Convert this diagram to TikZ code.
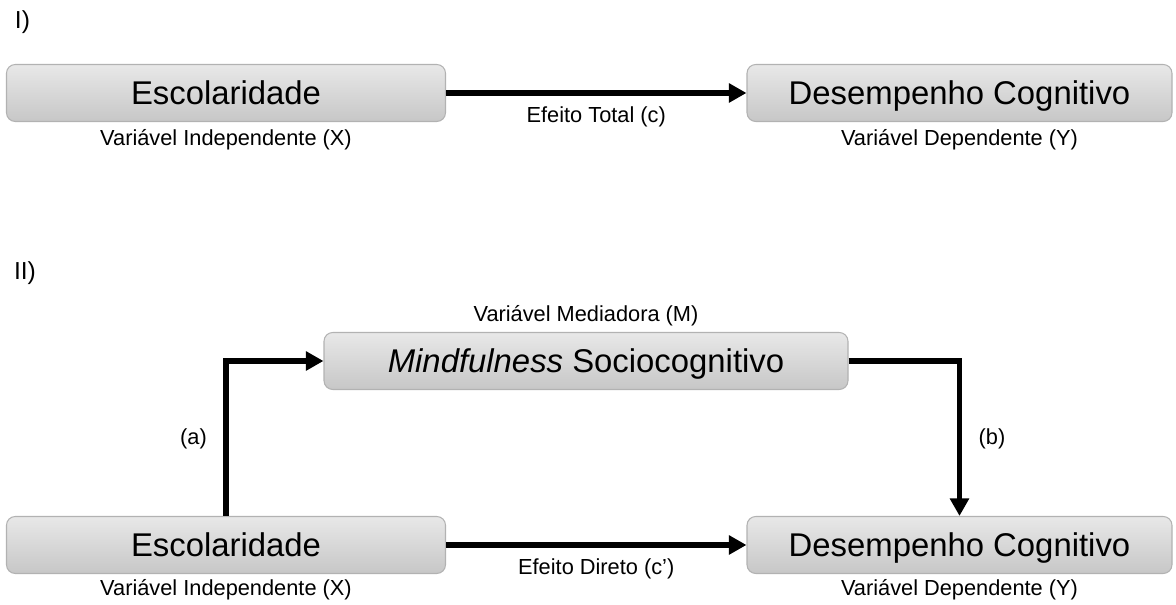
\documentclass[tikz,border=0pt]{standalone}
\usepackage{fontspec}
\setmainfont{Liberation Sans}
\usetikzlibrary{arrows.meta,positioning}

\begin{document}
\begin{tikzpicture}[line width=3.2pt]
\tikzstyle{box}=[draw=black!30, line width=0.6pt, rounded corners=5pt, top color=black!9, bottom color=black!22, minimum height=1.14cm, text height=17pt, text depth=4pt, font=\fontsize{18.7}{22}\selectfont]
\tikzstyle{caption}=[font=\fontsize{12.4}{15}\selectfont]
\tikzstyle{link}=[-{Triangle[length=10pt,width=10.5pt]}]

\useasboundingbox (0,0) rectangle (23.52,12.1);

\node[font=\fontsize{14}{16}\selectfont] (partI) at (0.45,11.66) {I)};
\node[box, minimum width=8.78cm] (X1) at (4.52,10.24) {Escolaridade};
\node[box, minimum width=8.5cm] (Y1) at (19.19,10.24) {Desempenho Cognitivo};
\node[caption] (X1cap) at (4.52,9.3) {Variável Independente (X)};
\node[caption] (Y1cap) at (19.19,9.3) {Variável Dependente (Y)};

\draw[link] (X1) -- (Y1)
    node [caption, below=3pt, midway] {Efeito Total (c)};

\node[font=\fontsize{14}{16}\selectfont] (partII) at (0.5,6.64) {II)};
\node[box, minimum width=10.48cm] (M) at (11.72,4.88) {\textit{Mindfulness} Sociocognitivo};
\node[caption] (Mcap) at (11.72,5.78) {Variável Mediadora (M)};
\node[box, minimum width=8.78cm] (X2) at (4.52,1.2) {Escolaridade};
\node[box, minimum width=8.5cm] (Y2) at (19.19,1.2) {Desempenho Cognitivo};
\node[caption] (X2cap) at (4.52,0.3) {Variável Independente (X)};
\node[caption] (Y2cap) at (19.19,0.3) {Variável Dependente (Y)};

\draw[link] (X2.north) |- (M.west)
    node [caption, left=6pt, pos=0.25] {(a)};
\draw[link] (M.east) -| (Y2.north)
    node [caption, right=6pt, pos=0.75] {(b)};
\draw[link] (X2) -- (Y2)
    node [caption, below=3pt, midway] {Efeito Direto (c’)};
\end{tikzpicture}
\end{document}
